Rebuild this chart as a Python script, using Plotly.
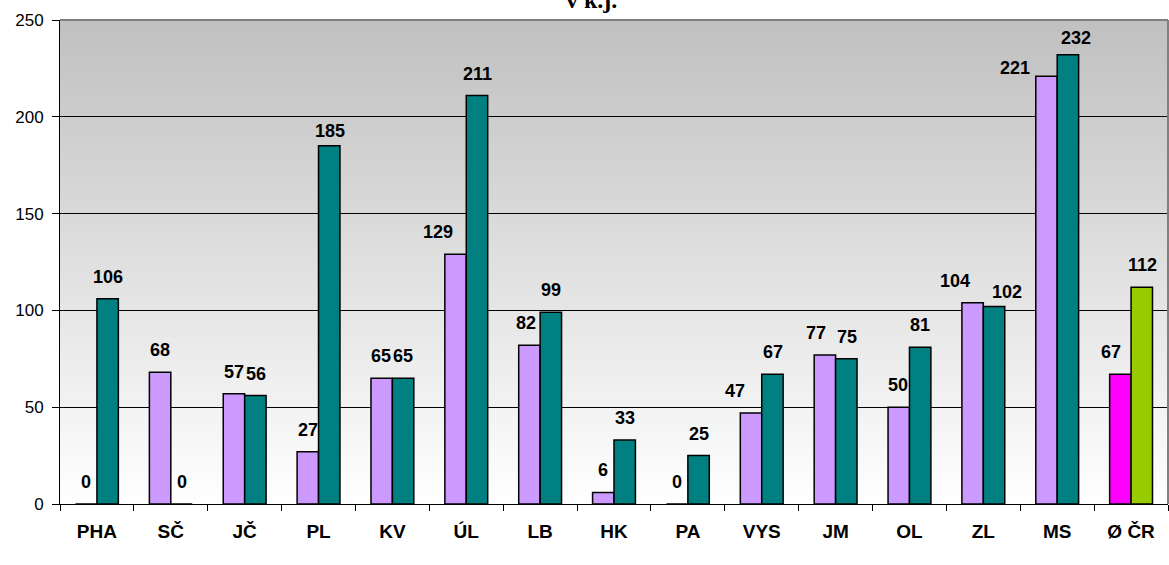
import plotly.graph_objects as go

# Regions and the two yearly series (values in k.j.)
categories = ["PHA", "SČ", "JČ", "PL", "KV", "ÚL", "LB", "HK", "PA", "VYS", "JM", "OL", "ZL", "MS", "Ø ČR"]
series_a = [0, 68, 57, 27, 65, 129, 82, 6, 0, 47, 77, 50, 104, 221, 67]
series_b = [106, 0, 56, 185, 65, 211, 99, 33, 25, 67, 75, 81, 102, 232, 112]

y_ticks = [0, 50, 100, 150, 200, 250]

# Bar colours: the national average gets its own pair of colours
color_a = ["#CC99FF"] * 14 + ["#FF00FF"]
color_b = ["#008080"] * 14 + ["#99CC00"]

# Label nudges in pixels (horizontal / vertical gap above the bar)
label_dx_a = [0, 0, 0, 0, 0, -17, -3, 0, 0, -16, -9, 0, -17, -31, -9]
label_dx_b = [0, 0, 0, 0, 0, 0, 0, 0, 0, 0, 0, 0, 13, 8, 0]
label_gap_a = [15, 15, 15, 15, 15, 15, 15, 15, 15, 15, 15, 15, 15, 1, 15]
label_gap_b = [15, 15, 15, 8, 15, 15, 15, 15, 15, 15, 15, 15, 8, 10, 15]

W, H = 1169, 565
ML, MR, MT, MB = 60, 1, 20, 61
BAR_HALF = 11  # centre offset of each bar within its group, px

fig = go.Figure()
fig.add_trace(go.Bar(x=categories, y=series_a, marker=dict(color=color_a, line=dict(color="black", width=1.5)),
                     showlegend=False, hoverinfo="x+y"))
fig.add_trace(go.Bar(x=categories, y=series_b, marker=dict(color=color_b, line=dict(color="black", width=1.5)),
                     showlegend=False, hoverinfo="x+y"))

label_font = dict(family="Arial, Liberation Sans, sans-serif", size=18, color="black", weight="bold")
annotations = []
for cat, va, vb, dxa, dxb, ga, gb in zip(categories, series_a, series_b, label_dx_a, label_dx_b,
                                         label_gap_a, label_gap_b):
    annotations.append(dict(x=cat, y=va, xref="x", yref="y", text=str(va), showarrow=False,
                            xanchor="center", yanchor="bottom", xshift=-BAR_HALF + dxa, yshift=ga - 5,
                            font=label_font))
    annotations.append(dict(x=cat, y=vb, xref="x", yref="y", text=str(vb), showarrow=False,
                            xanchor="center", yanchor="bottom", xshift=BAR_HALF + dxb, yshift=gb - 5,
                            font=label_font))

# Title line at the top edge
annotations.append(dict(x=0.48, y=1, xref="paper", yref="paper", text="v k.j.", showarrow=False,
                        xanchor="center", yanchor="middle", yshift=20,
                        font=dict(family="Liberation Serif, Times New Roman, serif", size=24,
                                  color="black", weight="bold")))

# Vertical grey gradient behind the plot area, drawn as thin bands
shapes = []
n_bands = 160
top_rgb, bottom_rgb = 192, 255
for i in range(n_bands):
    t = (i + 0.5) / n_bands
    c = round(bottom_rgb + (top_rgb - bottom_rgb) * t)
    shapes.append(dict(type="rect", xref="paper", yref="paper", x0=0, x1=1,
                       y0=i / n_bands, y1=(i + 1) / n_bands + 0.002,
                       fillcolor=f"rgb({c},{c},{c})", line=dict(width=0), layer="below"))
# Grey frame on the top and right edges of the plot area
shapes.append(dict(type="line", xref="paper", yref="paper", x0=0, x1=1, y0=1, y1=1,
                   line=dict(color="#808080", width=2)))
shapes.append(dict(type="line", xref="paper", yref="paper", x0=1, x1=1, y0=0, y1=1,
                   line=dict(color="#808080", width=2)))

fig.update_layout(
    width=W, height=H,
    margin=dict(l=ML, r=MR, t=MT, b=MB, pad=0),
    paper_bgcolor="white", plot_bgcolor="white",
    barmode="group", bargap=0.42, bargroupgap=0,
    shapes=shapes, annotations=annotations,
    font=dict(family="Arial, Liberation Sans, sans-serif", color="black"),
)
fig.update_xaxes(
    type="category", showline=True, linecolor="black", linewidth=1,
    ticks="outside", tickson="boundaries", ticklen=6, tickcolor="black",
    tickfont=dict(family="Arial, Liberation Sans, sans-serif", size=19, color="black", weight="bold"),
    ticklabelstandoff=10,
    showgrid=False,
)
fig.update_yaxes(
    range=[0, 250], tickvals=y_ticks, ticktext=[str(v) for v in y_ticks],
    showline=True, linecolor="black", linewidth=1,
    ticks="outside", ticklen=7, tickcolor="black",
    tickfont=dict(family="Arial, Liberation Sans, sans-serif", size=17, color="black"),
    ticklabelstandoff=5,
    showgrid=True, gridcolor="black", gridwidth=1, zeroline=False,
)

fig.write_html("out.html")
